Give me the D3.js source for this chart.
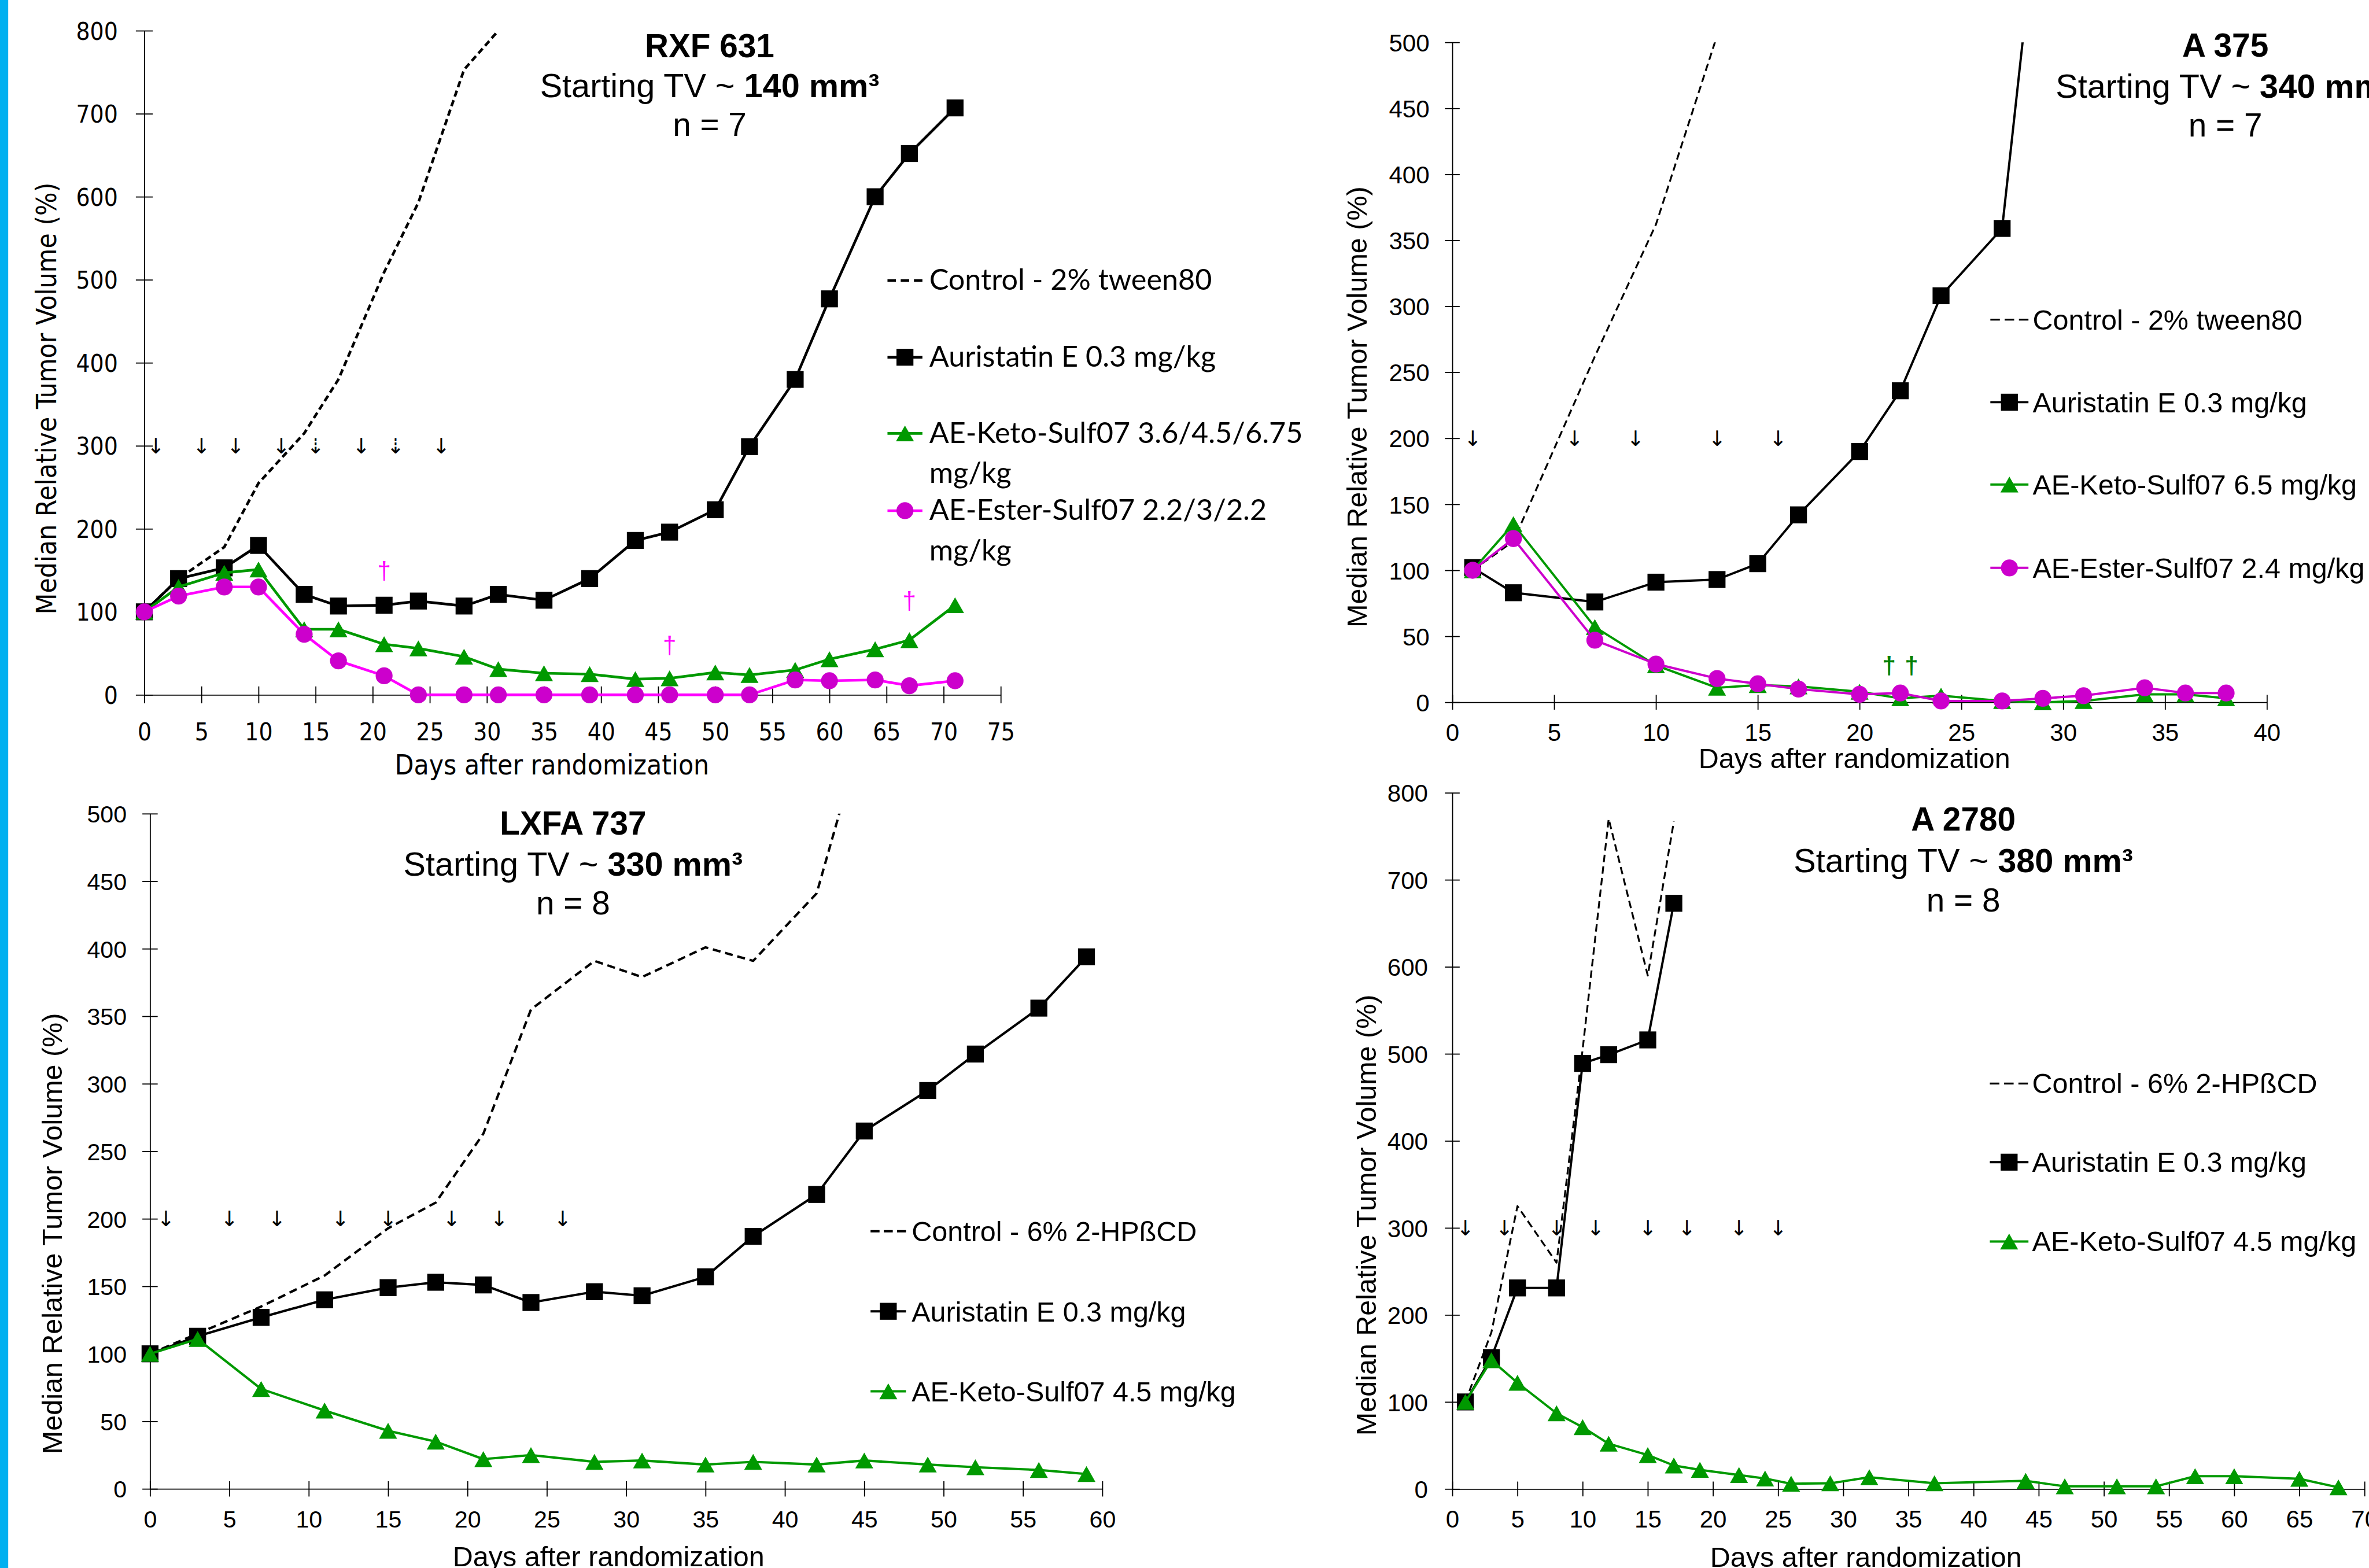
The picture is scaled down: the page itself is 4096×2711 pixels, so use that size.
<!DOCTYPE html>
<html>
<head>
<meta charset="utf-8">
<script src="https://cdn.jsdelivr.net/npm/d3@7"></script>
<style>
  body { margin: 0; background: #fff; }
  svg { display: block; }
</style>
</head>
<body>
<svg id="chart" width="4096" height="2711"></svg>
<script>
// ---- values: [day after randomization, median RTV %] ----

// RXF 631
const rxfControl = [[0,100],[3,140],[7,178],[10,255],[14,315],[17,380],[21,509],[24,593],[28,753],[31,800]]
const rxfAuristatin = [[0,100],[3,140],[7,153],[10,180],[14,121],[17,107],[21,108],[24,113],[28,107],[31,121],[35,114],[39,140],[43,186],[46,196],[50,223],[53,299],[57,380],[60,477],[64,600],[67,652],[71,707]]
const rxfKeto = [[0,100],[3,130],[7,147],[10,151],[14,79],[17,79],[21,61],[24,56],[28,46],[31,31],[35,26],[39,25],[43,19],[46,20],[50,27],[53,24],[57,30],[60,43],[64,55],[67,66],[71,108]]
const rxfEster = [[0,100],[3,119],[7,130],[10,130],[14,73],[17,41],[21,23],[24,0],[28,0],[31,0],[35,0],[39,0],[43,0],[46,0],[50,0],[53,0],[57,18],[60,17],[64,18],[67,11],[71,17]]
const rxfArrows = [1, 5, 8, 12, 15, 19, 22, 26]
const rxfDashedArrows = [15, 22]
const rxfDaggers = [[21,150],[46,60],[67,114]]
const rxfLabels = ['Control - 2% tween80', 'Auristatin E 0.3 mg/kg', ['AE-Keto-Sulf07 3.6/4.5/6.75', 'mg/kg'], ['AE-Ester-Sulf07 2.2/3/2.2', 'mg/kg']]

// A 375
const a375Control = [[1,100],[3,122],[7,262],[10,362],[13,505]]
const a375Auristatin = [[1,102],[3,83],[7,76],[10,91],[13,93],[15,105],[17,142],[20,190],[22,236],[24,308],[27,359],[29,640]]
const a375Keto = [[1,100],[3,135],[7,57],[10,28],[13,11],[15,13],[17,12],[20,8],[22,3],[24,5],[27,1],[29,0],[31,1],[34,6],[36,6],[38,3]]
const a375Ester = [[1,100],[3,124],[7,47],[10,29],[13,18],[15,14],[17,10],[20,6],[22,7],[24,1],[27,1],[29,3],[31,5],[34,11],[36,7],[38,7]]
const a375Arrows = [1, 6, 9, 13, 16]
const a375Daggers = [[21.45,28],[22.55,28]]
const a375Labels = ['Control - 2% tween80', 'Auristatin E 0.3 mg/kg', 'AE-Keto-Sulf07 6.5 mg/kg', 'AE-Ester-Sulf07 2.4 mg/kg']

// LXFA 737
const lxfaControl = [[0,100],[3,115],[7,135],[11,158],[15,193],[18,212],[21,263],[24,355],[28,391],[31,379],[35,401],[38,391],[42,441],[45,565]]
const lxfaAuristatin = [[0,100],[3,113],[7,127],[11,140],[15,149],[18,153],[21,151],[24,138],[28,146],[31,143],[35,157],[38,187],[42,218],[45,265],[49,295],[52,322],[56,356],[59,394]]
const lxfaKeto = [[0,100],[3,111],[7,74],[11,58],[15,43],[18,35],[21,22],[24,25],[28,20],[31,21],[35,18],[38,20],[42,18],[45,21],[49,18],[52,16],[56,14],[59,11]]
const lxfaArrows = [1, 5, 8, 12, 15, 19, 22, 26]
const lxfaLabels = ['Control - 6% 2-HPßCD', 'Auristatin E 0.3 mg/kg', 'AE-Keto-Sulf07 4.5 mg/kg']

// A 2780
const a2780Control = [[1,100],[3,180],[5,325],[8,260],[10,505],[12,770],[15,590],[17,767]]
const a2780Auristatin = [[1,100],[3,151],[5,231],[8,231],[10,489],[12,499],[15,516],[17,673]]
const a2780Keto = [[1,100],[3,148],[5,122],[8,87],[10,71],[12,52],[15,39],[17,27],[19,22],[22,16],[24,12],[26,6],[29,6.5],[32,13.5],[37,6.5],[44,9.4],[47,3],[51,3],[54,3],[57,14.7],[60,14.7],[65,11.7],[68,1.8]]
const a2780Arrows = [1, 4, 8, 11, 15, 18, 22, 25]
const a2780Labels = ['Control - 6% 2-HPßCD', 'Auristatin E 0.3 mg/kg', 'AE-Keto-Sulf07 4.5 mg/kg']

// ---- styles ----
const ARIAL = '"Liberation Sans", Arial, sans-serif'
const VERD = '"DejaVu Sans Condensed", "DejaVu Sans", sans-serif'
const CALI = 'Lato, "Open Sans", sans-serif'
const GREEN = '#009900'

const svg = d3.select('#chart')
const root = svg.append('g').attr('transform', 'scale(0.915)')
root.append('rect').attr('width', 4476).attr('height', 2963).attr('fill', '#fff')
root.append('rect').attr('width', 15.5).attr('height', 2963).attr('fill', '#00b0f0')

const panels = [
  {
    id: 'rxf', xMax: 75, yMax: 800, yStep: 100, px: [272.7, 1891], py: [1313, 58],
    font: VERD, stretch: 'condensed', tickFs: 46, tick: 16, yGap: 50, xBase: 86,
    lw: 5, dash: '12,7', magLine: '#ff00ff',
    series: [['control', rxfControl], ['ae', rxfAuristatin], ['keto', rxfKeto], ['ester', rxfEster]],
    arrows: rxfArrows, dashedArrows: rxfDashedArrows, arrowAt: 300,
    daggers: rxfDaggers, daggerColor: '#ff00ff',
    title: { cx: 1341, base: [108.5, 184, 257], name: 'RXF 631', tv: '140 mm³', n: 'n = 7' },
    xTitle: { x: 1043, y: 1463, fs: 52 }, yTitle: { x: 106, y: 753, fs: 52 },
    legend: { labels: rxfLabels, font: CALI, fs: 55, x0: 1677, x1: 1743, tx: 1756, rows: [530, 675, 819, 965], base: 18, lh: 76, dash: '16,9' }
  },
  {
    id: 'a375', xMax: 40, yMax: 500, yStep: 50, px: [2744.3, 4283.5], py: [1327, 80],
    font: ARIAL, tickFs: 46, tick: 14, yGap: 43, xBase: 73,
    lw: 4.3, dash: '14,8', dashW: 3.5, magLine: '#cc00cc',
    series: [['control', a375Control], ['ae', a375Auristatin], ['keto', a375Keto], ['ester', a375Ester]],
    arrows: a375Arrows, dashedArrows: [], arrowAt: 200,
    daggers: a375Daggers, daggerColor: '#008000',
    title: { cx: 4205, base: [107.5, 185, 258], name: 'A 375', tv: '340 mm³', n: 'n = 7' },
    xTitle: { x: 3504, y: 1451, fs: 53 }, yTitle: { x: 2583, y: 769, fs: 53 },
    legend: { labels: a375Labels, font: ARIAL, fs: 53, x0: 3761, x1: 3833, tx: 3841, rows: [604, 760, 915.5, 1073], base: 19, lh: 0, dash: '18,9' }
  },
  {
    id: 'lxfa', xMax: 60, yMax: 500, yStep: 50, px: [283.5, 2083], py: [2813.3, 1537.5],
    font: ARIAL, tickFs: 45, tick: 14.5, yGap: 44, xBase: 73,
    lw: 4.5, dash: '15,9', magLine: '#cc00cc',
    series: [['control', lxfaControl], ['ae', lxfaAuristatin], ['keto', lxfaKeto]],
    arrows: lxfaArrows, dashedArrows: [], arrowAt: 200,
    daggers: [], daggerColor: '#000',
    title: { cx: 1083, base: [1577.4, 1655, 1727.8], name: 'LXFA 737', tv: '330 mm³', n: 'n = 8' },
    xTitle: { x: 1150, y: 2960, fs: 53 }, yTitle: { x: 117, y: 2331, fs: 53 },
    legend: { labels: lxfaLabels, font: ARIAL, fs: 53, x0: 1645, x1: 1712, tx: 1722.7, rows: [2326.5, 2477.8, 2629], base: 19, lh: 0, dash: '17,8' }
  },
  {
    id: 'a2780', xMax: 70, yMax: 800, yStep: 100, px: [2744.3, 4468], py: [2813.5, 1498],
    font: ARIAL, tickFs: 46, tick: 14, yGap: 46, xBase: 73,
    lw: 4.3, dash: '14,8', dashW: 3.5, magLine: '#cc00cc',
    series: [['control', a2780Control], ['ae', a2780Auristatin], ['keto', a2780Keto]],
    arrows: a2780Arrows, dashedArrows: [], arrowAt: 300,
    daggers: [], daggerColor: '#000',
    title: { cx: 3710, base: [1569, 1648, 1722], name: 'A 2780', tv: '380 mm³', n: 'n = 8' },
    xTitle: { x: 3526, y: 2961, fs: 53 }, yTitle: { x: 2600, y: 2296, fs: 53 },
    legend: { labels: a2780Labels, font: ARIAL, fs: 53, x0: 3760, x1: 3833, tx: 3840, rows: [2047.5, 2196, 2346], base: 18, lh: 0, dash: '18,9' }
  }
]

function marker(sel, type, cx, cy) {
  if (type === 'ae') {
    sel.append('rect').attr('x', cx - 16).attr('y', cy - 16).attr('width', 32).attr('height', 32).attr('fill', '#000')
  } else if (type === 'keto') {
    sel.append('path').attr('d', `M${cx},${cy - 15}L${cx + 17},${cy + 15}L${cx - 17},${cy + 15}Z`).attr('fill', GREEN)
  } else if (type === 'ester') {
    sel.append('circle').attr('cx', cx).attr('cy', cy).attr('r', 16).attr('fill', '#cc00cc')
  }
}

function strokeOf(type, p) {
  if (type === 'keto') return GREEN
  if (type === 'ester') return p.magLine
  return '#000'
}

function drawPanel(p) {
  const g = root.append('g').attr('class', 'panel-' + p.id)
  const x = d3.scaleLinear().domain([0, p.xMax]).range(p.px)
  const y = d3.scaleLinear().domain([0, p.yMax]).range(p.py)

  // axes, ticks cross the axis line
  const ya = g.append('g').attr('transform', `translate(${p.px[0]},0)`)
    .call(d3.axisLeft(y).tickValues(d3.range(0, p.yMax + 1, p.yStep)).tickSizeOuter(0).tickSizeInner(p.tick))
  ya.selectAll('.tick line').attr('x1', p.tick).attr('stroke-width', 2)
  ya.selectAll('.tick text').attr('x', -p.yGap).attr('dy', '0.36em')

  const xa = g.append('g').attr('transform', `translate(0,${p.py[0]})`)
    .call(d3.axisBottom(x).tickValues(d3.range(0, p.xMax + 1, 5)).tickSizeOuter(0).tickSizeInner(p.tick))
  xa.selectAll('.tick line').attr('y1', -p.tick).attr('stroke-width', 2)
  xa.selectAll('.tick text').attr('y', p.xBase).attr('dy', 0)

  g.selectAll('.domain').attr('stroke-width', 2)
  ;[ya, xa].forEach(a => a.attr('font-family', p.font).attr('font-size', p.tickFs)
    .attr('font-stretch', p.stretch || null).attr('fill', '#000'))

  // series, clipped at the top of the value axis
  g.append('clipPath').attr('id', 'clip-' + p.id).append('rect')
    .attr('x', p.px[0] - 100).attr('y', p.py[1])
    .attr('width', p.px[1] - p.px[0] + 400).attr('height', p.py[0] - p.py[1] + 200)
  const plot = g.append('g').attr('clip-path', `url(#clip-${p.id})`)
  const line = d3.line().x(d => x(d[0])).y(d => y(d[1]))

  p.series.forEach(([type, data]) => {
    const path = plot.append('path').datum(data).attr('d', line)
      .attr('fill', 'none').attr('stroke', strokeOf(type, p))
      .attr('stroke-linejoin', 'round')
    if (type === 'control') {
      path.attr('stroke-width', p.dashW || p.lw).attr('stroke-dasharray', p.dash)
    } else {
      path.attr('stroke-width', p.lw)
      data.forEach(d => marker(plot, type, x(d[0]), y(d[1])))
    }
  })

  // dosing arrows
  g.selectAll('text.arrow').data(p.arrows).join('text')
    .attr('class', 'arrow')
    .attr('x', d => x(d)).attr('y', y(p.arrowAt)).attr('dy', '0.36em')
    .attr('text-anchor', 'middle').attr('font-family', '"DejaVu Sans", sans-serif').attr('font-size', 40)
    .attr('fill', '#000')
    .text(d => p.dashedArrows.includes(d) ? '⇣' : '↓')

  // deaths
  g.selectAll('text.dagger').data(p.daggers).join('text')
    .attr('class', 'dagger')
    .attr('x', d => x(d[0])).attr('y', d => y(d[1])).attr('dy', '0.36em')
    .attr('text-anchor', 'middle').attr('font-family', ARIAL).attr('font-size', 46)
    .attr('font-weight', p.id === 'a375' ? 'bold' : 'normal')
    .attr('fill', p.daggerColor).text('†')

  // title block
  const t = p.title
  const tt = g.append('g').attr('font-family', ARIAL).attr('text-anchor', 'middle').attr('fill', '#000')
  tt.append('text').attr('x', t.cx).attr('y', t.base[0]).attr('font-size', 62).attr('font-weight', 'bold').text(t.name)
  const tv = tt.append('text').attr('x', t.cx).attr('y', t.base[1]).attr('font-size', 63)
  tv.append('tspan').text('Starting TV ~ ')
  tv.append('tspan').attr('font-weight', 'bold').text(t.tv)
  tt.append('text').attr('x', t.cx).attr('y', t.base[2]).attr('font-size', 62).text(t.n)

  // axis titles
  g.append('text').attr('x', p.xTitle.x).attr('y', p.xTitle.y)
    .attr('text-anchor', 'middle').attr('font-family', p.font).attr('font-stretch', p.stretch || null)
    .attr('font-size', p.xTitle.fs).text('Days after randomization')
  g.append('text').attr('transform', `translate(${p.yTitle.x},${p.yTitle.y}) rotate(-90)`)
    .attr('text-anchor', 'middle').attr('font-family', p.font).attr('font-stretch', p.stretch || null)
    .attr('font-size', p.yTitle.fs).text('Median Relative Tumor Volume (%)')

  // legend
  const L = p.legend
  const lg = g.append('g')
  p.series.forEach(([type], i) => {
    const ry = L.rows[i]
    const ln = lg.append('line').attr('x1', L.x0).attr('x2', L.x1).attr('y1', ry).attr('y2', ry)
      .attr('stroke', strokeOf(type, p)).attr('stroke-width', type === 'control' ? (p.dashW || p.lw) : p.lw)
    if (type === 'control') ln.attr('stroke-dasharray', L.dash)
    else marker(lg, type, (L.x0 + L.x1) / 2, ry)
    const lines = [].concat(L.labels[i])
    lines.forEach((s, k) => {
      lg.append('text').attr('x', L.tx).attr('y', ry + L.base + k * L.lh)
        .attr('font-family', L.font).attr('font-size', L.fs).text(s)
    })
  })
}

panels.forEach(drawPanel)
</script>
</body>
</html>
